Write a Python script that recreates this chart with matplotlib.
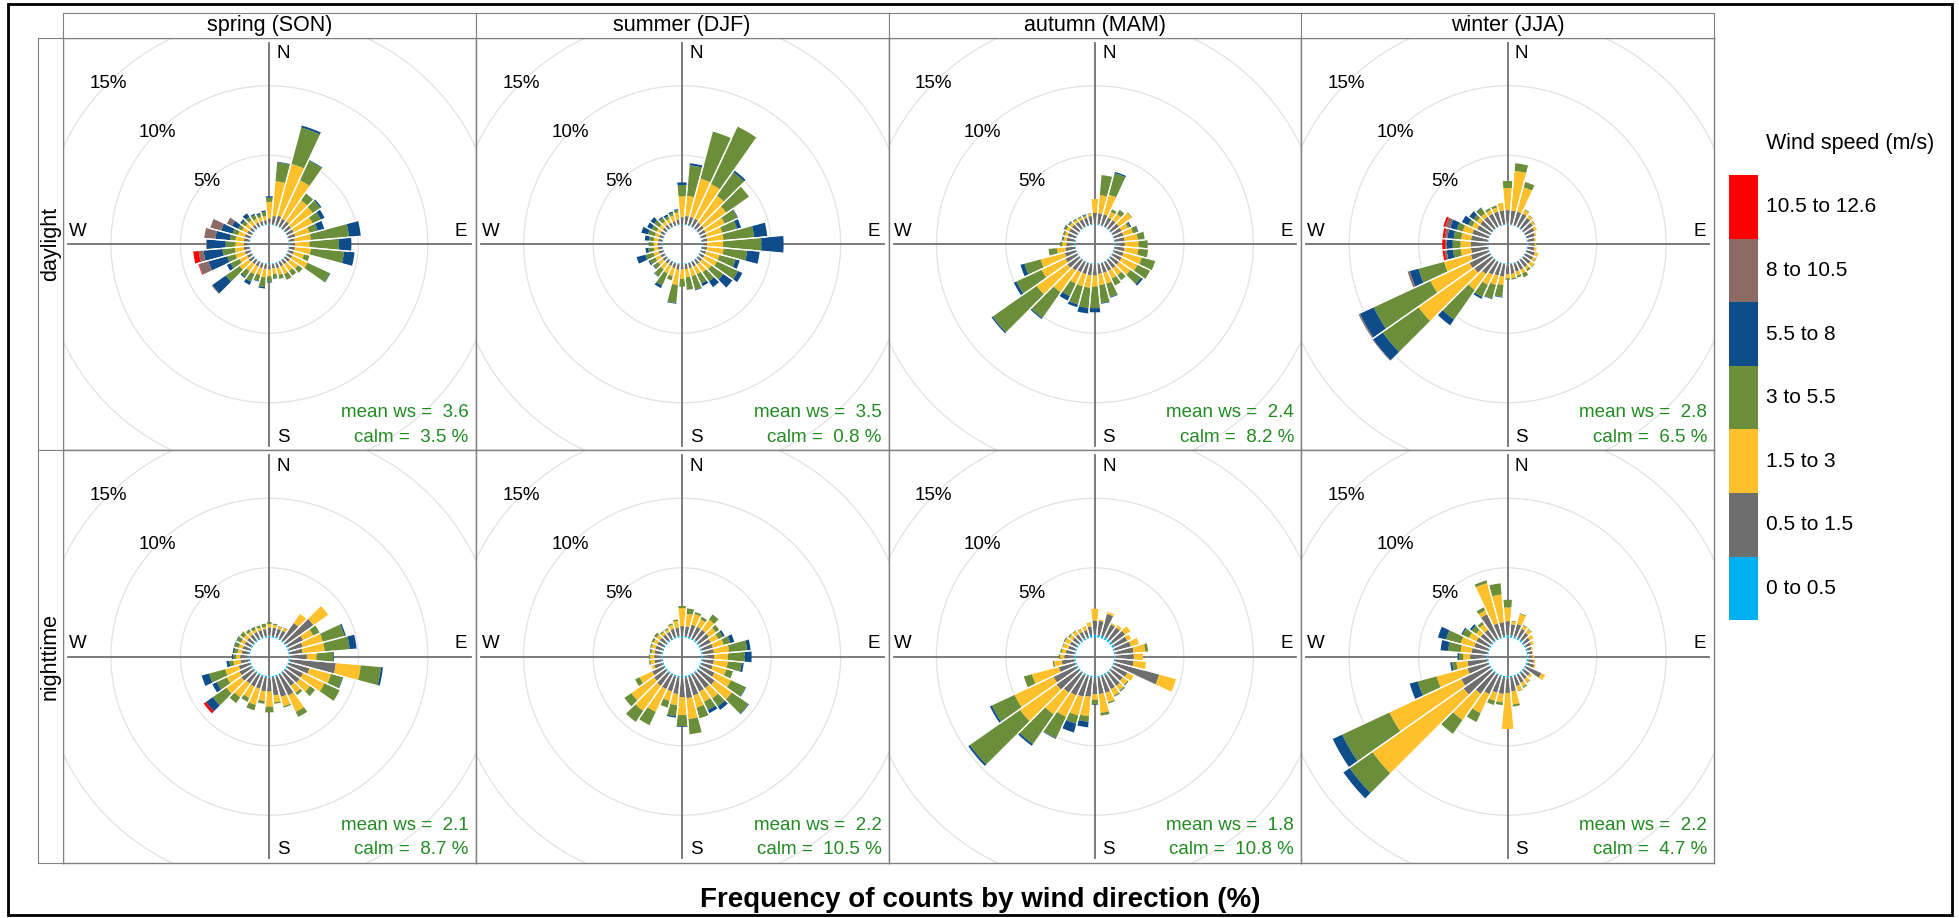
import numpy as np
import matplotlib
matplotlib.use('Agg')
import matplotlib.pyplot as plt
from matplotlib.patches import Wedge, Circle, Rectangle

plt.rcParams['font.family'] = ['Liberation Sans', 'DejaVu Sans']

W, H = 1959, 918

seasons = ['spring (SON)', 'summer (DJF)', 'autumn (MAM)', 'winter (JJA)']
periods = ['daylight', 'nighttime']
speed_bins = ['0 to 0.5', '0.5 to 1.5', '1.5 to 3', '3 to 5.5',
              '5.5 to 8', '8 to 10.5', '10.5 to 12.6']
speed_colors = ['#00B0F0', '#6E6E6E', '#FFC12B', '#6B8E3A',
                '#0F4C8A', '#8C6A66', '#FF0000']
directions = np.arange(0, 360, 10)

mean_ws = [[3.6, 3.5, 2.4, 2.8], [2.1, 2.2, 1.8, 2.2]]
calm = [[3.5, 0.8, 8.2, 6.5], [8.7, 10.5, 10.8, 4.7]]

# frequency (%) by direction (0, 10, ... 350 deg) and speed bin (columns as speed_bins)
spring_day = [
    [.05, .4, 1.2, .3, .1, 0, 0], [.05, .6, 2.5, 1.35, .05, 0, 0],
    [.05, .7, 3.85, 2.7, .15, 0, 0], [.05, .6, 3.05, 1.55, .05, 0, 0],
    [.05, .6, 1.85, .6, 0, 0, 0], [.05, .5, 1.9, .65, .1, 0, 0],
    [.05, .5, 1.5, .65, .3, 0, 0], [.05, .5, 1.05, .6, .5, 0, 0],
    [.05, .4, 1.15, 2.75, .85, 0, 0], [.05, .4, 1.05, 2.1, .9, 0, 0],
    [.05, .4, 1.15, 2.4, .75, 0, 0], [.05, .4, .75, .4, 0, 0, 0],
    [.05, .4, 1.2, 1.75, .05, 0, 0], [.05, .4, .7, .4, 0, 0, 0],
    [.05, .35, .6, .4, 0, 0, 0], [.05, .35, .6, .45, 0, 0, 0],
    [.05, .35, .5, .3, 0, 0, 0], [.05, .3, .4, .3, .05, 0, 0],
    [.05, .35, .5, .4, .05, 0, 0], [.05, .35, .6, .7, .1, 0, 0],
    [.05, .35, .5, .45, .05, 0, 0], [.05, .35, .6, .6, .25, 0, 0],
    [.05, .35, .6, .5, .1, 0, 0], [.05, .4, .8, 1.2, 1.2, .05, 0],
    [.05, .35, .6, .7, .3, 0, 0], [.05, .4, .7, .6, 1.4, .7, .05],
    [.05, .4, .65, .9, 1.35, .35, .4], [.05, .4, .6, .7, 1.35, .05, 0],
    [.05, .4, .6, .4, 1.05, .8, 0], [.05, .4, .5, .4, .85, .8, 0],
    [.05, .35, .4, .3, .5, .4, 0], [.05, .3, .4, .3, .15, 0, 0],
    [.05, .3, .4, .3, .3, 0, 0], [.05, .3, .3, .3, .1, 0, 0],
    [.05, .3, .3, .2, .1, 0, 0], [.05, .3, .3, .3, .1, 0, 0],
]
summer_day = [
    [.05, .5, 1.5, .8, .2, 0, 0], [.05, .6, 1.45, 2.2, .15, 0, 0],
    [.05, .6, 2.85, 3.5, 0, 0, 0], [.05, .6, 2.75, 4.55, 0, 0, 0],
    [.05, .5, 2.35, 2.05, .15, 0, 0], [.05, .5, 1.95, 2.0, 0, 0, 0],
    [.05, .45, 1.5, 1.0, .05, 0, 0], [.05, .4, 1.15, 1.1, .3, 0, 0],
    [.05, .4, 1.15, 2.2, .95, 0, 0], [.05, .35, 1.15, 2.75, 1.6, 0, 0],
    [.05, .35, 1.2, 1.7, .9, 0, 0], [.05, .35, 1.0, 1.2, .3, 0, 0],
    [.05, .35, 1.0, 1.65, .35, 0, 0], [.05, .35, .8, 1.05, .8, 0, 0],
    [.05, .35, .7, .8, .5, 0, 0], [.05, .35, .6, .75, .2, 0, 0],
    [.05, .35, .6, 1.0, .05, 0, 0], [.05, .35, .6, .9, 0, 0, 0],
    [.05, .35, .7, .55, 0, 0, 0], [.05, .4, 1.1, 1.3, .05, 0, 0],
    [.05, .35, .6, .3, 0, 0, 0], [.05, .3, .6, .95, .2, 0, 0],
    [.05, .3, .5, .6, .05, 0, 0], [.05, .3, .4, .4, .05, 0, 0],
    [.05, .3, .4, .45, .1, 0, 0], [.05, .3, .4, .6, .65, 0, 0],
    [.05, .3, .3, .4, .2, 0, 0], [.05, .3, .3, .3, .05, 0, 0],
    [.05, .3, .3, .35, .3, 0, 0], [.05, .3, .3, .5, .5, 0, 0],
    [.05, .3, .3, .4, .35, 0, 0], [.05, .3, .3, .45, .3, 0, 0],
    [.05, .3, .3, .3, .1, 0, 0], [.05, .3, .3, .2, .15, 0, 0],
    [.05, .3, .4, .2, .1, 0, 0], [.05, .35, .5, .2, .05, 0, 0],
]
autumn_day = [
    [.05, .8, 1.0, 0, 0, 0, 0], [.05, .8, 1.3, 1.45, 0, 0, 0],
    [.05, .8, 1.45, 1.6, .1, 0, 0], [.05, .7, .45, .2, 0, 0, 0],
    [.05, .7, .55, .35, 0, 0, 0], [.05, .7, 1.1, .05, 0, 0, 0],
    [.05, .7, .5, .15, .1, 0, 0], [.05, .7, .7, .35, .05, 0, 0],
    [.05, .7, .95, .5, 0, 0, 0], [.05, .7, 1.0, .65, 0, 0, 0],
    [.05, .7, 1.0, .7, 0, 0, 0], [.05, .7, 1.35, 1.0, 0, 0, 0],
    [.05, .7, 1.25, 1.0, 0, 0, 0], [.05, .7, 1.0, .95, .15, 0, 0],
    [.05, .7, .6, .45, 0, 0, 0], [.05, .7, .6, .55, 0, 0, 0],
    [.05, .7, .8, 1.0, .05, 0, 0], [.05, .7, .8, 1.3, .05, 0, 0],
    [.05, .8, .8, 1.55, .3, 0, 0], [.05, .8, .9, 1.45, .4, 0, 0],
    [.05, .8, .9, 1.35, .2, 0, 0], [.05, .8, .9, 1.0, .35, 0, 0],
    [.05, .9, 1.9, 2.25, .1, 0, 0], [.05, 1.0, 2.7, 3.85, .1, 0, 0],
    [.05, .9, 1.9, 2.0, .2, 0, 0], [.05, .8, 1.8, 1.2, .3, 0, 0],
    [.05, .7, .6, .6, 0, 0, 0], [.05, .6, .3, .15, 0, 0, 0],
    [.05, .6, .2, .1, .05, 0, 0], [.05, .6, .2, .15, 0, 0, 0],
    [.05, .6, .25, .15, .05, 0, 0], [.05, .6, .2, .1, .05, 0, 0],
    [.05, .55, .2, .1, 0, 0, 0], [.05, .55, .15, .1, 0, 0, 0],
    [.05, .55, .1, .1, .05, 0, 0], [.05, .6, .15, .05, 0, 0, 0],
]
winter_day = [
    [.05, 1.0, 1.6, .5, 0, 0, 0], [.05, 1.0, 2.85, .55, 0, 0, 0],
    [.05, 1.0, 1.8, .4, 0, 0, 0], [.05, 1.0, .3, .05, 0, 0, 0],
    [.05, .9, .2, .05, 0, 0, 0], [.05, .8, .15, .05, 0, 0, 0],
    [.05, .7, .2, 0, 0, 0, 0], [.05, .6, .1, 0, 0, 0, 0],
    [.05, .5, .1, 0, 0, 0, 0], [.05, .5, .1, 0, 0, 0, 0],
    [.05, .5, .15, 0, 0, 0, 0], [.05, .6, .25, 0, 0, 0, 0],
    [.05, .6, .2, .05, 0, 0, 0], [.05, .6, .3, .05, 0, 0, 0],
    [.05, .6, .2, .15, 0, 0, 0], [.05, .6, .3, .3, 0, 0, 0],
    [.05, .6, .3, .15, 0, 0, 0], [.05, .7, .3, .1, 0, 0, 0],
    [.05, .7, .3, .1, 0, 0, 0], [.05, .9, .6, .85, .05, 0, 0],
    [.05, .9, .7, 1.0, .05, 0, 0], [.05, 1.0, .8, .95, .15, 0, 0],
    [.05, 1.2, 1.4, 2.6, .5, 0, 0], [.05, 1.5, 4.9, 3.15, .85, .05, 0],
    [.05, 1.6, 3.1, 4.5, 1.1, .1, 0], [.05, 1.3, 2.0, 1.9, .65, .15, 0],
    [.05, 1.2, .75, .55, .45, .15, .15], [.05, 1.2, .75, .55, .45, .1, .2],
    [.05, 1.2, .7, .55, .45, .2, .15], [.05, 1.2, .7, .45, .5, .35, .15],
    [.05, 1.0, .4, .3, .5, 0, 0], [.05, 1.0, .3, .3, .35, 0, 0],
    [.05, 1.0, .3, .45, .05, 0, 0], [.05, 1.0, .3, .15, 0, 0, 0],
    [.05, 1.0, .3, .15, 0, 0, 0], [.05, 1.0, .55, 0, 0, 0, 0],
]
spring_night = [
    [.1, .6, .25, .15, 0, 0, 0], [.1, .6, .2, .1, 0, 0, 0],
    [.1, .6, .15, .05, 0, 0, 0], [.1, .6, .2, .05, 0, 0, 0],
    [.1, 1.5, .8, 0, 0, 0, 0], [.1, 2.4, 1.3, 0, 0, 0, 0],
    [.1, 1.2, .8, .5, 0, 0, 0], [.1, 1.0, 1.5, 1.6, .1, 0, 0],
    [.1, .9, 1.6, 1.8, .5, 0, 0], [.1, 1.2, .7, 1.2, .05, 0, 0],
    [.1, 3.3, 1.8, 1.45, .15, 0, 0], [.1, 1.5, 1.6, .85, .05, 0, 0],
    [.1, 1.2, 1.7, 1.2, 0, 0, 0], [.1, 1.2, .9, .45, 0, 0, 0],
    [.1, 1.1, .6, .2, 0, 0, 0], [.1, 1.6, 1.3, .4, 0, 0, 0],
    [.1, 1.5, .7, .1, 0, 0, 0], [.1, 1.3, .5, .1, 0, 0, 0],
    [.1, 1.0, 1.1, .4, 0, 0, 0], [.1, 1.0, .7, .2, 0, 0, 0],
    [.1, .9, 1.2, .4, 0, 0, 0], [.1, .9, .9, .3, 0, 0, 0],
    [.1, .9, 1.2, .5, 0, 0, 0], [.1, 1.0, 1.3, 1.2, .6, 0, .2],
    [.1, .9, 1.0, .8, .35, 0, 0], [.1, .8, 1.0, 1.2, .55, 0, 0],
    [.1, .6, .5, .3, .2, 0, 0], [.1, .6, .3, .2, .1, 0, 0],
    [.1, .5, .3, .25, .1, 0, 0], [.1, .5, .3, .3, .05, 0, 0],
    [.1, .5, .3, .3, .05, 0, 0], [.1, .5, .3, .3, 0, 0, 0],
    [.1, .5, .25, .2, 0, 0, 0], [.1, .5, .2, .2, 0, 0, 0],
    [.1, .5, .2, .15, 0, 0, 0], [.1, .5, .15, .25, 0, 0, 0],
]
summer_night = [
    [.1, .7, 1.3, .15, 0, 0, 0], [.1, .7, .9, .4, 0, 0, 0],
    [.1, .9, .8, .15, 0, 0, 0], [.1, .9, .6, .2, 0, 0, 0],
    [.1, .9, .9, .45, 0, 0, 0], [.1, .9, .6, .3, 0, 0, 0],
    [.1, .8, .6, .35, .15, 0, 0], [.1, .8, .8, .5, .3, 0, 0],
    [.1, .8, 1.1, 1.3, .25, 0, 0], [.1, .8, 1.0, 1.2, .5, 0, 0],
    [.1, .8, 1.0, 1.0, .15, 0, 0], [.1, .8, 1.0, .5, 0, 0, 0],
    [.1, 1.1, 1.3, 1.15, .05, 0, 0], [.1, 1.4, 1.5, 1.45, .05, 0, 0],
    [.1, 1.3, .9, .7, .3, 0, 0], [.1, 1.3, .8, .65, .25, 0, 0],
    [.1, 1.4, .9, .8, 0, 0, 0], [.1, 1.5, 1.5, 1.1, 0, 0, 0],
    [.1, 1.4, 1.3, .8, .05, 0, 0], [.1, 1.2, .8, .8, .1, 0, 0],
    [.1, 1.1, .7, .5, 0, 0, 0], [.1, 1.1, 1.8, 1.05, 0, 0, 0],
    [.1, 1.1, 2.2, .95, 0, 0, 0], [.1, 1.0, 2.0, .6, 0, 0, 0],
    [.1, .9, 1.0, .35, 0, 0, 0], [.1, .6, .2, 0, 0, 0, 0],
    [.1, .5, .3, .1, 0, 0, 0], [.1, .5, .3, .1, 0, 0, 0],
    [.1, .5, .2, .1, .05, 0, 0], [.1, .5, .3, .1, 0, 0, 0],
    [.1, .5, .3, .15, 0, 0, 0], [.1, .5, .3, .2, 0, 0, 0],
    [.1, .5, .2, .1, 0, 0, 0], [.1, .5, .2, .1, 0, 0, 0],
    [.1, .6, .3, .1, 0, 0, 0], [.1, .6, .5, .1, 0, 0, 0],
]
autumn_night = [
    [.2, 1.0, .85, 0, 0, 0, 0], [.2, 1.0, .1, 0, 0, 0, 0],
    [.2, 1.6, .15, 0, 0, 0, 0], [.2, 1.0, .1, 0, 0, 0, 0],
    [.2, 1.0, .2, 0, 0, 0, 0], [.2, 1.1, .45, 0, 0, 0, 0],
    [.2, 1.0, .3, 0, 0, 0, 0], [.1, 1.2, .6, 0, 0, 0, 0],
    [.1, 1.3, .85, .2, 0, 0, 0], [.1, 1.3, .65, 0, 0, 0, 0],
    [.1, 1.3, .9, 0, 0, 0, 0], [.1, 3.3, 1.25, 0, 0, 0, 0],
    [.1, 1.1, .5, 0, 0, 0, 0], [.1, 1.0, .4, .1, 0, 0, 0],
    [.1, 1.1, .4, .05, .05, 0, 0], [.1, 1.1, .5, .1, 0, 0, 0],
    [.1, 1.2, .7, .1, 0, 0, 0], [.1, 1.2, 1.35, .2, 0, 0, 0],
    [.1, 1.2, .4, .3, .05, 0, 0], [.1, 1.4, 1.4, .4, .4, 0, 0],
    [.1, 1.5, 1.4, .6, .65, 0, 0], [.1, 1.6, 1.7, 1.7, .05, 0, 0],
    [.1, 1.7, 1.9, 2.6, .15, 0, 0], [.1, 1.9, 3.2, 4.4, .15, 0, 0],
    [.1, 1.8, 3.1, 1.8, .15, 0, 0], [.1, 1.2, 2.0, .6, 0, 0, 0],
    [.1, .9, .55, .1, 0, 0, 0], [.1, .7, .3, .1, 0, 0, 0],
    [.1, .6, .3, .1, 0, 0, 0], [.1, .5, .4, .05, 0, 0, 0],
    [.1, .5, .4, .1, 0, 0, 0], [.1, .5, .3, .1, 0, 0, 0],
    [.1, .5, .3, .05, 0, 0, 0], [.1, .5, .2, .05, 0, 0, 0],
    [.1, .5, .3, 0, 0, 0, 0], [.2, .6, .3, 0, 0, 0, 0],
]
winter_night = [
    [.15, 1.0, 1.0, .55, 0, 0, 0], [.15, .8, .2, .05, 0, 0, 0],
    [.15, .9, .75, .05, 0, 0, 0], [.15, .7, .25, .05, 0, 0, 0],
    [.15, .6, .3, .05, 0, 0, 0], [.1, .5, .3, 0, 0, 0, 0],
    [.1, .4, .2, 0, 0, 0, 0], [.1, .3, .1, 0, 0, 0, 0],
    [.1, .3, .05, 0, 0, 0, 0], [.1, .3, .1, 0, 0, 0, 0],
    [.1, .4, .1, 0, 0, 0, 0], [.1, .5, .1, 0, 0, 0, 0],
    [.1, 1.2, .3, 0, 0, 0, 0], [.1, .5, .2, 0, 0, 0, 0],
    [.1, .5, .3, .05, 0, 0, 0], [.1, .6, .3, .1, 0, 0, 0],
    [.1, .7, .35, .05, 0, 0, 0], [.1, 1.0, .95, .15, 0, 0, 0],
    [.1, 1.1, 2.6, 0, 0, 0, 0], [.1, 1.2, .6, .2, 0, 0, 0],
    [.1, 1.2, .6, .3, 0, 0, 0], [.1, 1.5, 1.5, .7, 0, 0, 0],
    [.1, 1.8, 2.3, 1.2, 0, 0, 0], [.1, 2.4, 8.0, 2.0, .55, 0, 0],
    [.1, 2.2, 5.7, 3.75, .75, 0, 0], [.1, 1.5, 2.3, 1.4, .6, 0, 0],
    [.1, 1.4, .8, .3, .15, 0, 0], [.1, 1.2, .5, .3, .1, 0, 0],
    [.1, 1.1, .8, .9, .55, 0, 0], [.1, 1.0, 1.0, 1.1, .6, 0, 0],
    [.1, 1.0, .6, .5, .1, 0, 0], [.1, .9, .4, .4, .15, 0, 0],
    [.1, .9, .5, .2, 0, 0, 0], [.1, 1.9, .3, .25, 0, 0, 0],
    [.1, 1.0, 3.0, .2, 0, 0, 0], [.1, 1.0, 2.0, .8, 0, 0, 0],
]

panel_data = [[spring_day, summer_day, autumn_day, winter_day],
              [spring_night, summer_night, autumn_night, winter_night]]

OFFSET = 1.4          # hole in the middle, in % units
PX_PER_UNIT = 13.9
GRID_COL = '#e2e2e2'
FRAME_COL = '#808080'
STAT_COL = 'forestgreen'
LABEL_FS = 13.5

# panel geometry in pixels
left, top_strip, top = 63.0, 12.5, 38.0
pw, ph = (1714 - 63) / 4, (863 - 38) / 2
strip_w = 25.0


def fig_rect(x, y, w, h):
    return [x / W, 1 - (y + h) / H, w / W, h / H]


def draw_rose(ax, freq):
    freq = np.asarray(freq)
    hx = pw / 2 / PX_PER_UNIT
    hy = ph / 2 / PX_PER_UNIT
    ax.set_xlim(-hx, hx)
    ax.set_ylim(-hy, hy)
    ax.set_xticks([])
    ax.set_yticks([])
    for s in ax.spines.values():
        s.set_color(FRAME_COL)
        s.set_linewidth(1.0)

    for g in [5, 10, 15, 20]:
        ax.add_patch(Circle((0, 0), g + OFFSET, fill=False, ec=GRID_COL, lw=0.9, zorder=1))
    ext = hx - 5 / PX_PER_UNIT
    ax.plot([0, 0], [-ext, ext], color='#707070', lw=1.3, zorder=2)
    ax.plot([-ext, ext], [0, 0], color='#707070', lw=1.3, zorder=2)

    for d, row in zip(directions, freq):
        phi = 90 - d
        base = OFFSET
        for val, col in zip(row, speed_colors):
            if val <= 0:
                continue
            ax.add_patch(Wedge((0, 0), base + val, phi - 5, phi + 5, width=val,
                               fc=col, ec='none', lw=0, zorder=3))
            base += val
        for a in (phi - 5, phi + 5):
            t = np.radians(a)
            ax.plot([OFFSET * np.cos(t), base * np.cos(t)],
                    [OFFSET * np.sin(t), base * np.sin(t)],
                    color='white', lw=0.9, zorder=4, solid_capstyle='butt')

    for g in [5, 10, 15]:
        r = (g + OFFSET) * np.sqrt(0.5)
        ax.text(-r, r, f'{g}%', ha='center', va='center', fontsize=LABEL_FS, zorder=5)

    ax.text(1.0, ext - 0.8, 'N', ha='center', va='center', fontsize=LABEL_FS, zorder=5)
    ax.text(1.0, -ext + 0.6, 'S', ha='center', va='center', fontsize=LABEL_FS, zorder=5)
    ax.text(ext - 0.7, 0.95, 'E', ha='center', va='center', fontsize=LABEL_FS, zorder=5)
    ax.text(-ext + 0.7, 0.95, 'W', ha='center', va='center', fontsize=LABEL_FS, zorder=5)


fig = plt.figure(figsize=(W / 100, H / 100), dpi=100)

for r in range(2):
    for c in range(4):
        ax = fig.add_axes(fig_rect(left + c * pw, top + r * ph, pw, ph))
        draw_rose(ax, panel_data[r][c])
        ax.text(0.983, 0.092, f'mean ws =  {mean_ws[r][c]}', transform=ax.transAxes,
                ha='right', va='center', fontsize=LABEL_FS, color=STAT_COL)
        ax.text(0.983, 0.032, f'calm =  {calm[r][c]} %', transform=ax.transAxes,
                ha='right', va='center', fontsize=LABEL_FS, color=STAT_COL)

# season strips on top
for c, name in enumerate(seasons):
    sax = fig.add_axes(fig_rect(left + c * pw, top_strip, pw, top - top_strip))
    sax.set_xticks([])
    sax.set_yticks([])
    for s in sax.spines.values():
        s.set_color(FRAME_COL)
    sax.text(0.5, 0.5, name, ha='center', va='center', fontsize=15.5, transform=sax.transAxes)

# day / night strips on the left
for r, name in enumerate(periods):
    sax = fig.add_axes(fig_rect(left - strip_w, top + r * ph, strip_w, ph))
    sax.set_xticks([])
    sax.set_yticks([])
    for s in sax.spines.values():
        s.set_color(FRAME_COL)
    sax.text(0.5, 0.5, name, ha='center', va='center', rotation=90,
             fontsize=15.5, transform=sax.transAxes)

# legend
box_x, box_w = 1729, 29
box_top, box_h = 175, 63.6
fig.text(1766 / W, 1 - 143 / H, 'Wind speed (m/s)', ha='left', va='center', fontsize=15.5)
for i, (lab, col) in enumerate(zip(speed_bins[::-1], speed_colors[::-1])):
    y = box_top + i * box_h
    fig.patches.append(Rectangle((box_x / W, 1 - (y + box_h) / H), box_w / W, box_h / H,
                                 transform=fig.transFigure, fc=col, ec='none'))
    fig.text(1766 / W, 1 - (y + box_h / 2) / H, lab, ha='left', va='center', fontsize=15)

fig.text(980 / W, 1 - 900 / H, 'Frequency of counts by wind direction (%)',
         ha='center', va='center', fontsize=20, fontweight='bold')

# outer frame
fig.patches.append(Rectangle((8 / W, 1 - 915 / H), (1952 - 8) / W, (915 - 4) / H,
                             transform=fig.transFigure, fill=False, ec='black', lw=2))

fig.savefig('out.png', dpi=100)
